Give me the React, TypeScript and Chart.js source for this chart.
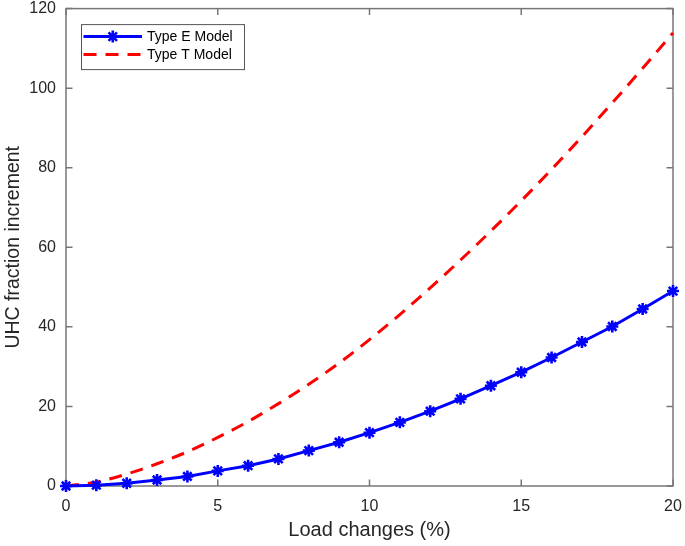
import React, { useEffect, useRef } from "react";
import { Chart, registerables } from "chart.js";

Chart.register(...registerables);

// ---- data ----
const loadChanges = [0, 1, 2, 3, 4, 5, 6, 7, 8, 9, 10, 11, 12, 13, 14, 15, 16, 17, 18, 19, 20];
const typeEModel = [0, 0.2, 0.7, 1.5, 2.4, 3.8, 5.1, 6.8, 8.9, 11.0, 13.4, 16.0, 18.8, 21.9, 25.2, 28.6, 32.3, 36.2, 40.1, 44.5, 49.0];
const typeTModel = [0, 1.0, 3.0, 5.6, 8.6, 12.2, 16.2, 20.7, 25.6, 30.9, 36.8, 43.1, 49.8, 56.8, 64.1, 71.7, 79.6, 87.8, 96.3, 105.0, 113.9];
const xTicks = [0, 5, 10, 15, 20];
const yTicks = [0, 20, 40, 60, 80, 100, 120];
const seriesLabels = ["Type E Model", "Type T Model"];
const xTitle = "Load changes (%)";
const yTitle = "UHC fraction increment";

const FONT = "'Liberation Sans', Arial, Helvetica, sans-serif";
const AXIS_COLOR = "#777777";
const TEXT_COLOR = "#262626";

const boxPlugin = {
  id: "matlabBox",
  beforeDatasetsDraw(chart: any) {
    const { ctx, chartArea } = chart;
    const { left, right, top, bottom } = chartArea;
    const xs = chart.scales.x;
    const ys = chart.scales.y;
    const tl = 6.5;
    ctx.save();
    ctx.strokeStyle = AXIS_COLOR;
    ctx.lineWidth = 1.5;
    ctx.strokeRect(left, top, right - left, bottom - top);
    ctx.beginPath();
    xTicks.forEach((v) => {
      const px = xs.getPixelForValue(v);
      ctx.moveTo(px, bottom);
      ctx.lineTo(px, bottom - tl);
      ctx.moveTo(px, top);
      ctx.lineTo(px, top + tl);
    });
    yTicks.forEach((v) => {
      const py = ys.getPixelForValue(v);
      ctx.moveTo(left, py);
      ctx.lineTo(left + tl, py);
      ctx.moveTo(right, py);
      ctx.lineTo(right - tl, py);
    });
    ctx.stroke();
    ctx.restore();
  },
  afterDatasetsDraw(chart: any) {
    const { ctx, chartArea } = chart;
    const bx = chartArea.left + 15;
    const by = chartArea.top + 15.5;
    const bw = 163;
    const bh = 45;
    ctx.save();
    ctx.fillStyle = "#ffffff";
    ctx.fillRect(bx, by, bw, bh);
    ctx.strokeStyle = "#555555";
    ctx.lineWidth = 1;
    ctx.strokeRect(bx + 0.5, by + 0.5, bw, bh);
    const rowY = [by + 12.5, by + 30.5];
    chart.data.datasets.forEach((ds: any, i: number) => {
      const y = rowY[i];
      const x0 = bx + 2.5;
      const x1 = bx + 61;
      ctx.save();
      ctx.strokeStyle = ds.borderColor;
      ctx.lineWidth = ds.borderWidth;
      ctx.setLineDash(ds.borderDash || []);
      ctx.beginPath();
      ctx.moveTo(x0, y);
      ctx.lineTo(x1, y);
      ctx.stroke();
      ctx.restore();
      if (ds.pointRadius > 0) {
        ctx.save();
        ctx.strokeStyle = ds.pointBorderColor;
        ctx.lineWidth = ds.pointBorderWidth;
        const cx = (x0 + x1) / 2;
        const r = ds.pointRadius;
        ctx.beginPath();
        for (let k = 0; k < 4; k++) {
          const a = (k * Math.PI) / 4;
          ctx.moveTo(cx - r * Math.cos(a), y - r * Math.sin(a));
          ctx.lineTo(cx + r * Math.cos(a), y + r * Math.sin(a));
        }
        ctx.stroke();
        ctx.restore();
      }
      ctx.fillStyle = "#000000";
      ctx.font = `14px ${FONT}`;
      ctx.textBaseline = "middle";
      ctx.textAlign = "left";
      ctx.fillText(ds.label, bx + 66, y + 0.5);
    });
    ctx.restore();
  },
};

export default function App() {
  const ref = useRef<HTMLCanvasElement | null>(null);

  useEffect(() => {
    if (!ref.current) return;
    const chart = new Chart(ref.current, {
      type: "line",
      data: {
        datasets: [
          {
            label: seriesLabels[0],
            data: loadChanges.map((x, i) => ({ x, y: typeEModel[i] })),
            borderColor: "#0000ff",
            backgroundColor: "#0000ff",
            borderWidth: 3,
            pointStyle: "star",
            pointRadius: 6,
            pointBorderWidth: 2.6,
            pointBorderColor: "#0000ff",
            pointBackgroundColor: "#0000ff",
            tension: 0,
            clip: false,
          } as any,
          {
            label: seriesLabels[1],
            data: loadChanges.map((x, i) => ({ x, y: typeTModel[i] })),
            borderColor: "#ff0000",
            backgroundColor: "#ff0000",
            borderWidth: 3,
            borderDash: [13, 9],
            pointRadius: 0,
            cubicInterpolationMode: "monotone",
            clip: false,
          } as any,
        ],
      },
      options: {
        responsive: false,
        animation: false,
        layout: { padding: { top: 7.5, right: 12, left: 0, bottom: 0 } },
        plugins: {
          legend: { display: false },
          tooltip: { enabled: false },
        },
        scales: {
          x: {
            type: "linear",
            min: 0,
            max: 20,
            afterFit: (s: any) => {
              s.height = 60;
              s.paddingLeft = 0;
              s.paddingRight = 0;
            },
            afterBuildTicks: (s: any) => {
              s.ticks = xTicks.map((v) => ({ value: v }));
            },
            grid: { display: false, drawTicks: false },
            border: { display: false },
            ticks: {
              padding: 11,
              color: TEXT_COLOR,
              font: { family: FONT, size: 16 },
              maxRotation: 0,
            },
            title: {
              display: true,
              text: xTitle,
              color: TEXT_COLOR,
              font: { family: FONT, size: 20 },
              padding: { top: 0, bottom: 4 },
            },
          },
          y: {
            type: "linear",
            min: 0,
            max: 120,
            afterFit: (s: any) => {
              s.width = 66;
              s.paddingTop = 0;
              s.paddingBottom = 0;
            },
            afterBuildTicks: (s: any) => {
              s.ticks = yTicks.map((v) => ({ value: v }));
            },
            grid: { display: false, drawTicks: false },
            border: { display: false },
            ticks: {
              padding: 10,
              color: TEXT_COLOR,
              font: { family: FONT, size: 16 },
            },
            title: {
              display: true,
              text: yTitle,
              color: TEXT_COLOR,
              font: { family: FONT, size: 19.5 },
              padding: { top: 2, bottom: 0 },
            },
          },
        },
      },
      plugins: [boxPlugin],
    });
    return () => chart.destroy();
  }, []);

  return (
    <div style={{ position: "absolute", left: 0, top: 0, width: 685, height: 546, background: "#fff" }}>
      <canvas ref={ref} width={685} height={546} style={{ display: "block" }} />
    </div>
  );
}
